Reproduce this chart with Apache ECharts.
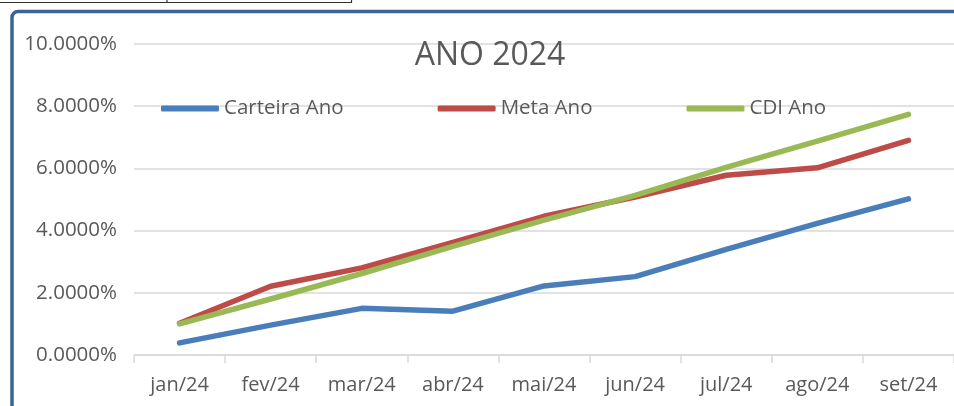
<!DOCTYPE html>
<html>
<head>
<meta charset="utf-8">
<script src="https://cdn.jsdelivr.net/npm/echarts@6/dist/echarts.min.js"></script>
<style>
html,body{margin:0;padding:0;background:#fff;}
#c{width:954px;height:406px;}
</style>
</head>
<body>
<div id="c"></div>
<script>
const categories = ['jan/24','fev/24','mar/24','abr/24','mai/24','jun/24','jul/24','ago/24','set/24'];
const carteiraAno = [0.0039, 0.0096, 0.0150, 0.0141, 0.0222, 0.0252, 0.0340, 0.0423, 0.0502];
const metaAno     = [0.0102, 0.0221, 0.0280, 0.0362, 0.0446, 0.0508, 0.0578, 0.0602, 0.0690];
const cdiAno      = [0.0100, 0.0180, 0.0262, 0.0349, 0.0434, 0.0513, 0.0603, 0.0688, 0.0774];
const seriesNames = ['Carteira Ano','Meta Ano','CDI Ano'];
const titleText = 'ANO 2024';

const FONT = '"Open Sans", "Liberation Sans", sans-serif';
const TXT = '#595959';
const colors = ['#4A7EBB','#BE4B48','#98B954'];

const chart = echarts.init(document.getElementById('c'), null, {renderer:'canvas'});
const mk = (name, data, i) => ({
  name, type:'line', data, symbol:'none', smooth:false,
  lineStyle:{width:5.5, color:colors[i], cap:'round', join:'round'},
  itemStyle:{color:colors[i]},
  z: 3 + i
});
chart.setOption({
  animation:false,
  backgroundColor:'#fff',
  title:{
    text:titleText, left:485, top:35, textAlign:'center',
    textStyle:{fontFamily:FONT, fontSize:32, fontWeight:'normal', color:TXT}
  },
  legend:{
    data:seriesNames, left:156, top:93, itemWidth:58, itemHeight:6, itemGap:94,
    icon:'roundRect',
    textStyle:{fontFamily:FONT, fontSize:20.5, color:TXT, padding:[0,0,0,0]}
  },
  grid:{left:134, right:-13, top:44, bottom:51, containLabel:false},
  xAxis:{
    type:'category', data:categories, boundaryGap:true,
    axisLine:{show:true, lineStyle:{color:'#D9D9D9', width:1.5}},
    axisTick:{show:true, interval:0, length:8, lineStyle:{color:'#D9D9D9', width:1.5}},
    axisLabel:{interval:0, fontFamily:FONT, fontSize:20, color:TXT, margin:20}
  },
  yAxis:{
    type:'value', min:0, max:0.10, interval:0.02,
    axisLine:{show:false}, axisTick:{show:false},
    splitLine:{lineStyle:{color:'#D9D9D9', width:1.5}},
    axisLabel:{fontFamily:FONT, fontSize:20.5, color:TXT, margin:17,
      formatter:v => (v*100).toFixed(4) + '%'}
  },
  series:[mk(seriesNames[0],carteiraAno,0), mk(seriesNames[1],metaAno,1), mk(seriesNames[2],cdiAno,2)],
  graphic:[
    {type:'rect', shape:{x:12, y:11.5, width:1000, height:500, r:6}, style:{fill:null, stroke:'#3A6495', lineWidth:3.5}, silent:true, z:10},
    {type:'line', shape:{x1:0, y1:2.5, x2:352, y2:2.5}, style:{stroke:'#333', lineWidth:1.2}, silent:true},
    {type:'line', shape:{x1:167, y1:0, x2:167, y2:3}, style:{stroke:'#333', lineWidth:1.2}, silent:true},
    {type:'line', shape:{x1:351.5, y1:0, x2:351.5, y2:3}, style:{stroke:'#333', lineWidth:1.2}, silent:true}
  ]
});
</script>
</body>
</html>
